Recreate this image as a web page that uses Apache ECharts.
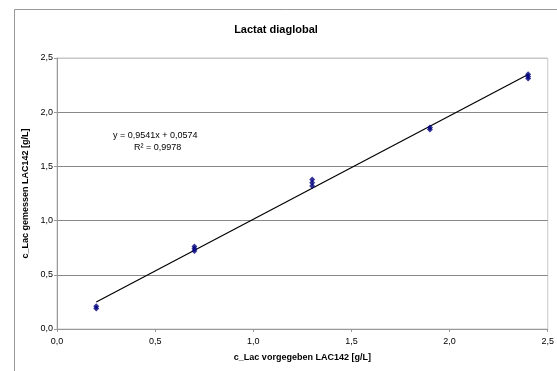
<!DOCTYPE html>
<html>
<head>
<meta charset="utf-8">
<script src="https://cdn.jsdelivr.net/npm/echarts@6/dist/echarts.min.js"></script>
<style>
  html, body { margin: 0; padding: 0; background: #fff; }
  #chart-container { width: 557px; height: 371px; }
</style>
</head>
<body>
<div id="chart-container"></div>
<script>
// measured points (vorgegeben, gemessen)
const givenX = [0.2, 0.2, 0.7, 0.7, 0.7, 1.3, 1.3, 1.3, 1.9, 1.9, 2.4, 2.4, 2.4];
const measuredY = [0.19, 0.21, 0.72, 0.74, 0.76, 1.32, 1.35, 1.38, 1.84, 1.86, 2.31, 2.33, 2.35];

// linear regression from the chart
const slope = 0.9541;
const intercept = 0.0574;
const rSquared = 0.9978;

const xTicks = [0, 0.5, 1.0, 1.5, 2.0, 2.5];
const yTicks = [0, 0.5, 1.0, 1.5, 2.0, 2.5];

const fmt = (v) => v.toFixed(1).replace(".", ",");
const fmt4 = (v) => v.toFixed(4).replace(".", ",");

const points = givenX.map((x, i) => [x, measuredY[i]]);
const xMin = Math.min(...givenX);
const xMax = Math.max(...givenX);
const trend = [
  [xMin, slope * xMin + intercept],
  [xMax, slope * xMax + intercept],
];

const font = "Liberation Sans";

const option = {
  animation: false,
  textStyle: { fontFamily: font },
  title: {
    text: "Lactat diaglobal",
    left: 271,
    top: 19,
    textAlign: "center",
    textStyle: { fontSize: 11, fontWeight: "bold", color: "#000", fontFamily: font },
  },
  grid: {
    left: 57,
    right: 5,
    top: 58,
    bottom: 42,
    show: true,
    borderColor: "#c8c8c8",
    borderWidth: 1,
  },
  xAxis: {
    type: "value",
    min: xTicks[0],
    max: xTicks[xTicks.length - 1],
    interval: 0.5,
    name: "c_Lac vorgegeben LAC142 [g/L]",
    nameLocation: "middle",
    nameGap: 24,
    nameTextStyle: { fontSize: 9, fontWeight: "bold", color: "#000", fontFamily: font },
    axisLine: { show: true, lineStyle: { color: "#999", width: 1 } },
    axisTick: { show: true, inside: false, length: 3, lineStyle: { color: "#999" } },
    axisLabel: { fontSize: 9, color: "#000", margin: 8, formatter: fmt },
    splitLine: { show: false },
  },
  yAxis: {
    type: "value",
    min: yTicks[0],
    max: yTicks[yTicks.length - 1],
    interval: 0.5,
    name: "c_Lac gemessen LAC142 [g/L]",
    nameLocation: "middle",
    nameGap: 22,
    nameTextStyle: { fontSize: 9, fontWeight: "bold", color: "#000", fontFamily: font },
    axisLine: { show: true, lineStyle: { color: "#999", width: 1 } },
    axisTick: { show: true, inside: false, length: 3, lineStyle: { color: "#999" } },
    axisLabel: { fontSize: 9, color: "#000", margin: 4, formatter: fmt },
    splitLine: {
      show: true,
      lineStyle: {
        color: ["#999", "#888", "#888", "#888", "#888", "#c8c8c8"],
        width: 1,
      },
    },
  },
  graphic: [
    {
      type: "rect",
      left: 12,
      top: 7,
      shape: { width: 560, height: 380 },
      style: { fill: "none", stroke: "#999", lineWidth: 1 },
      silent: true,
      z: -1,
    },
    {
      type: "text",
      left: 113,
      top: 131,
      style: {
        text: "y = " + fmt4(slope) + "x + " + fmt4(intercept),
        font: "9px " + font,
        fill: "#000",
      },
    },
    {
      type: "text",
      left: 134,
      top: 143,
      style: {
        text: "R\u00b2 = " + fmt4(rSquared),
        font: "9px " + font,
        fill: "#000",
      },
    },
  ],
  series: [
    {
      type: "line",
      data: trend,
      symbol: "none",
      lineStyle: { color: "#000", width: 1.2 },
      z: 2,
    },
    {
      type: "scatter",
      data: points,
      symbol: "diamond",
      symbolSize: 6,
      itemStyle: { color: "#000080" },
      z: 3,
    },
  ],
};

const dom = document.getElementById("chart-container");
const myChart = echarts.init(dom, null, { renderer: "canvas" });
myChart.setOption(option);
window.addEventListener("resize", () => myChart.resize());
</script>
</body>
</html>
